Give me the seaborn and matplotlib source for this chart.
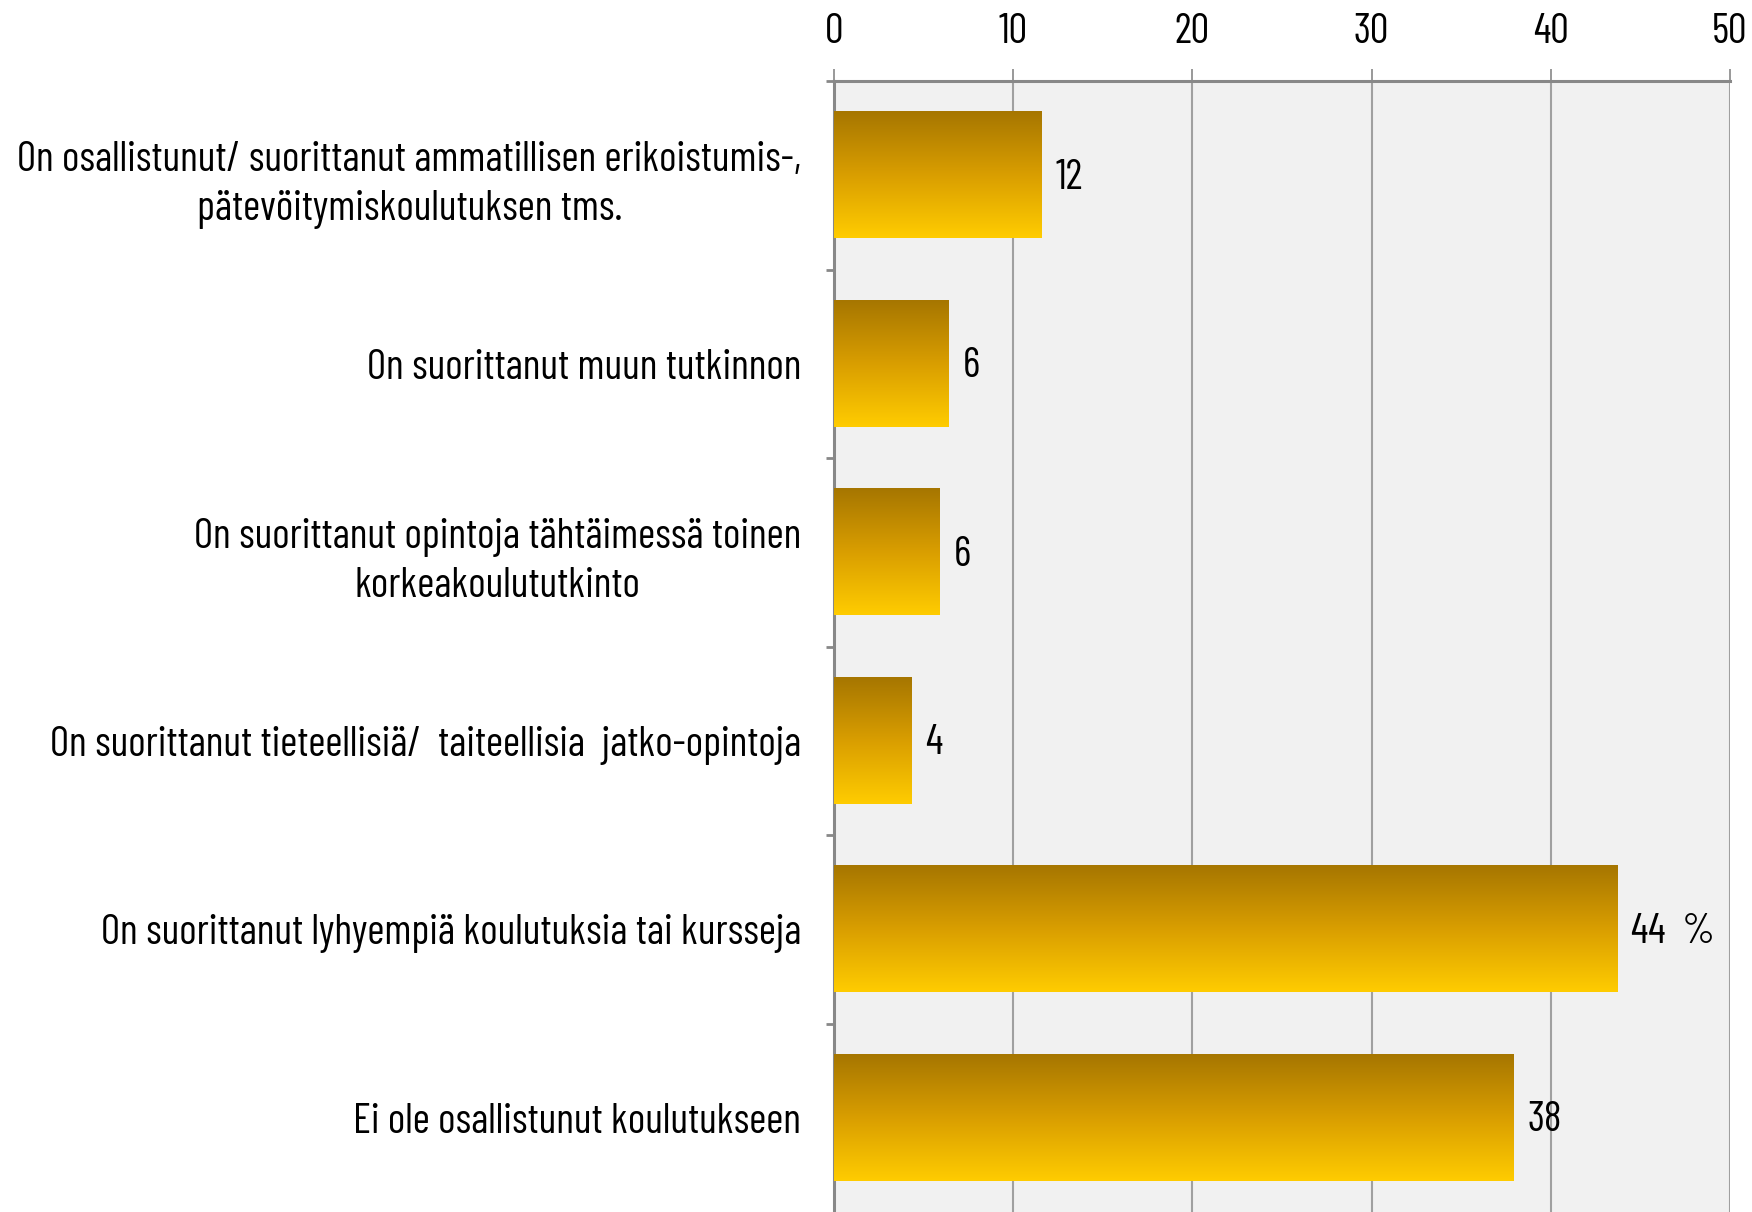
import matplotlib
matplotlib.use("Agg")
import matplotlib.pyplot as plt
import seaborn as sns
import numpy as np
import pandas as pd
from matplotlib.colors import LinearSegmentedColormap

categories = [
    "On osallistunut/ suorittanut ammatillisen erikoistumis-,\npätevöitymiskoulutuksen tms.",
    "On suorittanut muun tutkinnon",
    "On suorittanut opintoja tähtäimessä toinen\nkorkeakoulututkinto",
    "On suorittanut tieteellisiä/  taiteellisia  jatko-opintoja",
    "On suorittanut lyhyempiä koulutuksia tai kursseja",
    "Ei ole osallistunut koulutukseen",
]
values = [11.6, 6.4, 5.9, 4.3, 43.7, 37.9]
value_labels = ["12", "6", "6", "4", "44  %", "38"]
xticks = [0, 10, 20, 30, 40, 50]

sns.set_style("white")
plt.rcParams['font.family'] = ['Barlow Condensed', 'DejaVu Sans']

df = pd.DataFrame({"cat": categories, "val": values})

fig = plt.figure(figsize=(17.52, 12.12), dpi=100)
ax = fig.add_axes([834/1752, 0.0, 896/1752, (1212-81)/1212])
ax.set_facecolor('#f1f1f1')

sns.barplot(data=df, x="val", y="cat", orient="h", width=0.67, ax=ax,
            color='#e0a800', edgecolor='none')

ax.set_xlim(0, 50)
ylim = ax.get_ylim()

# gradient fill of each bar: dark gold at top -> yellow at bottom
cmap = LinearSegmentedColormap.from_list('gold', ['#a67600', '#d99e00', '#ffcc00'])
grad = np.linspace(0, 1, 256).reshape(-1, 1)
for p in ax.patches:
    x0, y0, w, h = p.get_x(), p.get_y(), p.get_width(), p.get_height()
    ax.imshow(grad, cmap=cmap, aspect='auto', origin='upper',
              extent=(x0, x0 + w, y0 + h, y0), zorder=3, interpolation='bilinear')
    p.set_visible(False)

ax.set_xlim(0, 50)
ax.set_ylim(ylim)

for p, lab in zip(ax.patches, value_labels):
    ax.annotate(lab, (p.get_x() + p.get_width(), p.get_y() + p.get_height() / 2),
                xytext=(10, -2), textcoords='offset points', ha='left', va='center',
                fontsize=30, color='black', zorder=4)

ax.xaxis.tick_top()
ax.set_xticks(xticks)
ax.set_xticklabels([str(t) for t in xticks])
ax.grid(axis='x', color='#a0a0a0', lw=1.5, zorder=0)
ax.set_axisbelow(True)
ax.set_xlabel('')
ax.set_ylabel('')

for s in ['right', 'bottom']:
    ax.spines[s].set_visible(False)
for s in ['top', 'left']:
    ax.spines[s].set_color('#888888')
    ax.spines[s].set_linewidth(2.2)

ax.tick_params(axis='x', top=True, bottom=False, length=9, width=1.2, color='#888888',
               labelsize=30, labelcolor='black', pad=12)
# category separators on the left axis
ax.set_yticks(np.arange(len(categories)) - 0.5, minor=True)
ax.tick_params(axis='y', which='minor', left=True, length=6, width=2, color='#888888')
ax.tick_params(axis='y', which='major', left=False, labelsize=30, labelcolor='black', pad=20)
for t in ax.get_yticklabels():
    t.set_multialignment('center')
    t.set_linespacing(1.35)

fig.savefig('out.png', dpi=100)
